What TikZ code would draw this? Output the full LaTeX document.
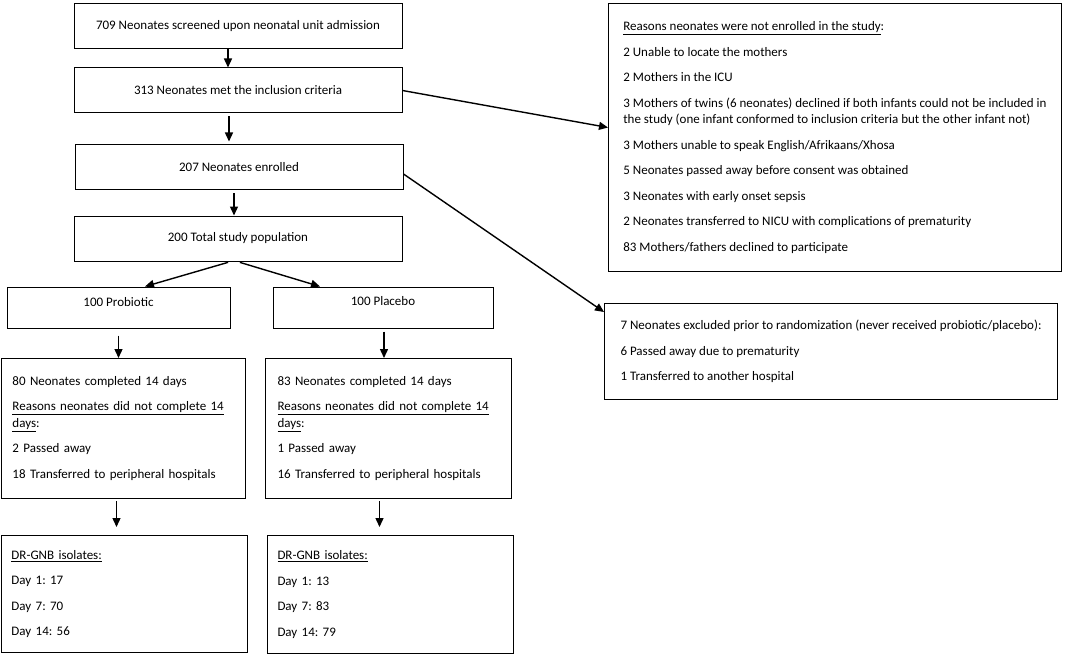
\documentclass[tikz,border=0pt]{standalone}
\usepackage{fontspec}
\setmainfont{Carlito}
\usetikzlibrary{positioning, arrows.meta}
\frenchspacing

\begin{document}
\begin{tikzpicture}[x=1pt, y=-1pt, thick,
  every node/.style={font=\fontsize{13}{16.5}\selectfont},
  flowbox/.style={draw, line width=1pt, minimum width=328pt, minimum height=45pt, inner sep=0pt},
  listbox/.style={draw, line width=1pt, anchor=north west, align=left, inner xsep=11pt, inner ysep=0pt},
  arr/.style={-{Triangle[length=9pt,width=8pt]}, line width=1.4pt}]
  \useasboundingbox (0,0) rectangle (1078,655);

  % main column
  \node[flowbox] (screen) at (238,26.5) {709 Neonates screened upon neonatal unit admission};
  \node[flowbox] (incl) at (238,90.5) {313 Neonates met the inclusion criteria};
  \node[flowbox] (enrol) at (239,167.5) {207 Neonates enrolled};
  \node[flowbox] (total) at (238,238.5) {200 Total study population};
  \node[flowbox, minimum width=223pt, minimum height=41pt] (probio) at (118.5,307.5) {\raisebox{5pt}[\height][\depth]{100 Probiotic}};
  \node[flowbox, minimum width=220pt, minimum height=41pt] (placebo) at (383,307.5) {\raisebox{6pt}[\height][\depth]{100 Placebo}};

  % follow-up
  \node[listbox, text width=222pt, minimum height=140pt] (compP) at (1,358) {80 Neonates completed 14 days\\[9pt]
    \underline{Reasons neonates did not complete 14}\\ \underline{days}:\\[9pt]
    2 Passed away\\[9pt]
    18 Transferred to peripheral hospitals};
  \node[listbox, inner xsep=12pt, text width=222pt, minimum height=140pt] (compQ) at (265,358) {83 Neonates completed 14 days\\[9pt]
    \underline{Reasons neonates did not complete 14}\\ \underline{days}:\\[9pt]
    1 Passed away\\[9pt]
    16 Transferred to peripheral hospitals};
  \node[listbox, inner xsep=10pt, text width=226pt, minimum height=117pt] (isoP) at (1,535) {\underline{DR-GNB isolates:}\\[9pt]
    Day 1: 17\\[9pt]
    Day 7: 70\\[9pt]
    Day 14: 56};
  \node[listbox, inner xsep=10pt, text width=226pt, minimum height=118pt] (isoQ) at (267,535) {\underline{DR-GNB isolates:}\\[9pt]
    Day 1: 13\\[9pt]
    Day 7: 83\\[9pt]
    Day 14: 79};

  % exclusions
  \node[listbox, minimum width=453pt, minimum height=268pt] (notenr) at (608,3) {\underline{Reasons neonates were not enrolled in the study}:\\[9pt]
    2 Unable to locate the mothers\\[9pt]
    2 Mothers in the ICU\\[9pt]
    3 Mothers of twins (6 neonates) declined if both infants could not be included in\\
    the study (one infant conformed to inclusion criteria but the other infant not)\\[9pt]
    3 Mothers unable to speak English/Afrikaans/Xhosa\\[9pt]
    5 Neonates passed away before consent was obtained\\[9pt]
    3 Neonates with early onset sepsis\\[9pt]
    2 Neonates transferred to NICU with complications of prematurity\\[9pt]
    83 Mothers/fathers declined to participate};
  \node[listbox, minimum width=453pt, minimum height=96pt] (excl) at (604,303) {7 Neonates excluded prior to randomization (never received probiotic/placebo):\\[9pt]
    6 Passed away due to prematurity\\[9pt]
    1 Transferred to another hospital};

  \draw[arr] ([xshift=-10pt]screen.south) -- ([xshift=-10pt]screen.south |- incl.north);
  \draw[arr, shorten <=3pt, shorten >=3pt] ([xshift=-9pt]incl.south) -- ([xshift=-9pt]incl.south |- enrol.north);
  \draw[arr, shorten <=3pt] ([xshift=-5pt]enrol.south) -- ([xshift=-5pt]enrol.south |- total.north);
  \draw[arr, shorten <=3pt] ([xshift=-7pt]total.south) -- ([xshift=26.5pt]probio.north);
  \draw[arr, shorten <=3pt] ([xshift=-1pt]total.south) -- ([xshift=-63pt]placebo.north);
  \draw[arr, shorten <=7pt] (probio.south) -- (probio.south |- compP.north);
  \draw[arr, shorten <=3pt] ([xshift=1pt]placebo.south) -- ([xshift=1pt]placebo.south |- compQ.north);
  \draw[arr, shorten <=2pt, shorten >=8pt] ([xshift=-7pt]compP.south) -- ([xshift=-7pt]compP.south |- isoP.north);
  \draw[arr, shorten <=2pt, shorten >=8pt] ([xshift=-9pt]compQ.south) -- ([xshift=-9pt]compQ.south |- isoQ.north);
  \draw[arr] (incl.east) -- ([yshift=10pt]notenr.west);
  \draw[arr] ([yshift=-6.5pt]enrol.east) -- ([yshift=-9pt]excl.north west);
\end{tikzpicture}
\end{document}
